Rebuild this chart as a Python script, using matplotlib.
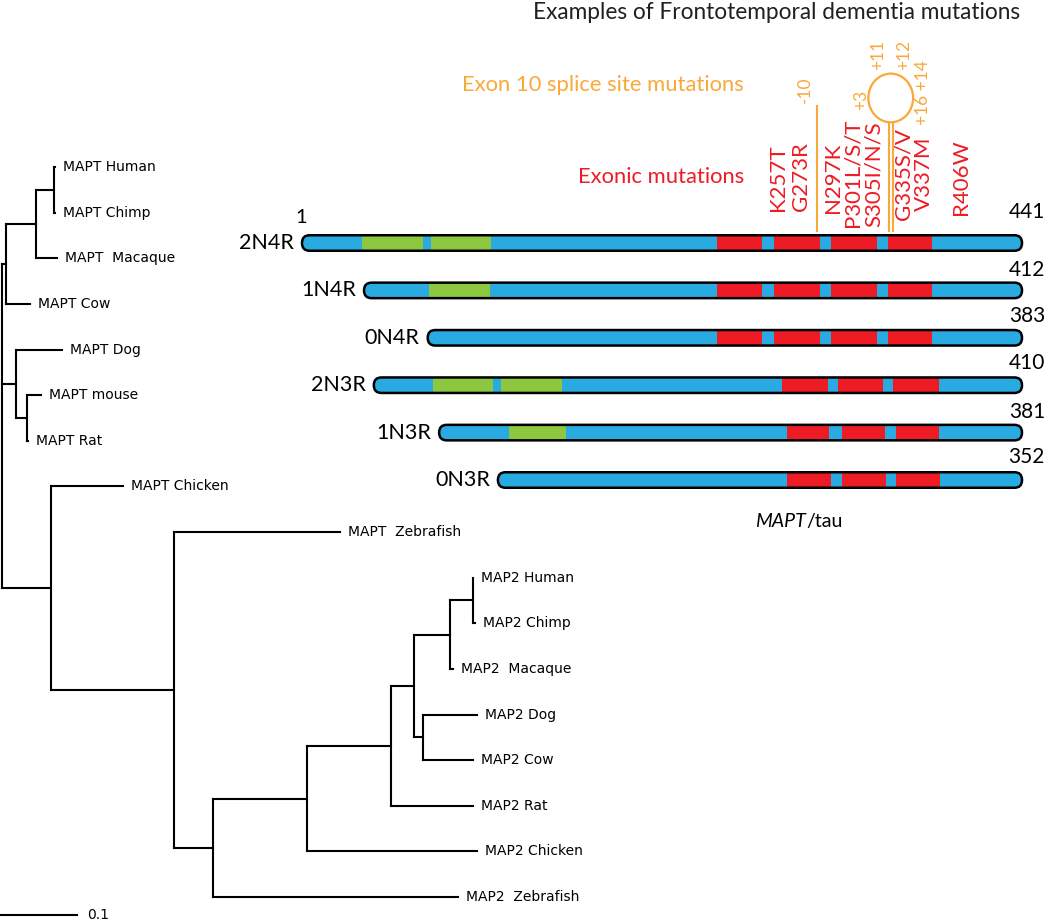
import matplotlib.pyplot as plt
from matplotlib.patches import FancyBboxPatch, Rectangle, Ellipse

plt.rcParams['font.family'] = ['Lato', 'DejaVu Sans']

BLUE = '#29aae1'
GREEN = '#8dc63f'
RED = '#ed1c24'
ORANGE = '#f9a83a'

# ---------------- phylogenetic tree (flat node table) ----------------
tree_nodes = ['root', 'n1', 'n2', 'n3', 'MAPT Human', 'MAPT Chimp', 'MAPT  Macaque',
              'MAPT Cow', 'n4', 'MAPT Dog', 'n5', 'MAPT mouse', 'MAPT Rat',
              'n6', 'MAPT Chicken', 'n7', 'MAPT  Zebrafish', 'n8', 'n9', 'n10',
              'n11', 'n12', 'n13', 'MAP2 Human', 'MAP2 Chimp', 'MAP2  Macaque',
              'n14', 'MAP2 Dog', 'MAP2 Cow', 'MAP2 Rat', 'MAP2 Chicken', 'MAP2  Zebrafish']
tree_parent = [None, 'root', 'n1', 'n2', 'n3', 'n3', 'n2',
               'n1', 'root', 'n4', 'n4', 'n5', 'n5',
               'root', 'n6', 'n6', 'n7', 'n7', 'n8', 'n9',
               'n10', 'n11', 'n12', 'n13', 'n13', 'n12',
               'n11', 'n14', 'n14', 'n10', 'n9', 'n8']
tree_length = [0.0, 0.0045, 0.039, 0.0234, 0.001, 0.001, 0.0273,
               0.0312, 0.0175, 0.0597, 0.0143, 0.0182, 0.0013,
               0.063, 0.0935, 0.1597, 0.2156, 0.0506, 0.122, 0.109,
               0.0299, 0.0468, 0.0295, 0.0007, 0.003, 0.0035,
               0.0117, 0.0701, 0.0649, 0.1065, 0.2208, 0.318]
scale_bar = 0.1

# ---------------- tau isoforms (schematic positions) ----------------
iso_names = ['2N4R', '1N4R', '0N4R', '2N3R', '1N3R', '0N3R']
iso_lengths = [441, 412, 383, 410, 381, 352]
iso_start = [0, 38, 77, 44, 84, 120]
iso_end = [441, 441, 441, 441, 441, 441]
green_segments = [[(37, 74), (79, 116)], [(78, 115)], [],
                  [(80, 117), (122, 159)], [(127, 162)], []]
red_4r = [(254, 282), (289, 317), (324, 352), (359, 386)]
red_segments = [red_4r, red_4r, red_4r,
                [(294, 322), (328, 356), (362, 390)],
                [(297, 323), (331, 357), (364, 390)],
                [(297, 324), (331, 358), (364, 391)]]
length_dy = [-0.65, -0.42, -0.46, -0.47, -0.44, -0.49]

mutations = ['K257T', 'G273R', 'N297K', 'P301L/S/T', 'S305I/N/S', 'G335S/V', 'V337M', 'R406W']
mutation_x = [291.6, 305.6, 325.2, 336.9, 350.4, 368.7, 381.0, 403.6]
mutation_y = [-0.675, -0.675, -0.633, -0.338, -0.338, -0.485, -0.675, -0.591]

splice_labels = ['-10', '+3', '+11', '+12', '+16 +14']
splice_x = [308.1, 342.4, 352.6, 368.7, 380.2]
splice_y = [-3.23, -3.02, -3.97, -3.97, -3.175]

fig = plt.figure(figsize=(10.5, 9.21), dpi=100)

# tree axes: x = distance, y = leaf index (calibrated to pixels)
PX_PER_DIST = 770.0
ROOT_PX = 2.5
LEAF0_PX, LEAF_STEP = 167.0, 45.625
ax_t = fig.add_axes([0, 0, 1, 1])
ax_t.set_xlim(-ROOT_PX / PX_PER_DIST, (1050 - ROOT_PX) / PX_PER_DIST)
ax_t.set_ylim((921 - LEAF0_PX) / LEAF_STEP, -LEAF0_PX / LEAF_STEP)
ax_t.axis('off')

parents = set(p for p in tree_parent if p is not None)
node_x = {}
for name, par, bl in zip(tree_nodes, tree_parent, tree_length):
    node_x[name] = bl if par is None else node_x[par] + bl
node_y = {}
leaf_i = 0
for name in tree_nodes:
    if name not in parents:
        node_y[name] = leaf_i
        leaf_i += 1
children = {}
for name, par in zip(tree_nodes, tree_parent):
    if par is not None:
        children.setdefault(par, []).append(name)
for name in reversed(tree_nodes):
    if name in children:
        ys = [node_y[c] for c in children[name]]
        node_y[name] = (min(ys) + max(ys)) / 2

lw_tree = 1.5
for name, par in zip(tree_nodes, tree_parent):
    if par is not None:
        ax_t.plot([node_x[par], node_x[name]], [node_y[name]] * 2, color='black',
                  lw=lw_tree, solid_capstyle='projecting')
    if name in children:
        ys = [node_y[c] for c in children[name]]
        ax_t.plot([node_x[name]] * 2, [min(ys), max(ys)], color='black',
                  lw=lw_tree, solid_capstyle='projecting')
    else:
        ax_t.text(node_x[name] + 0.0105, node_y[name], name, fontsize=10,
                  family='DejaVu Sans', va='center', ha='left')

sb_y = (915 - LEAF0_PX) / LEAF_STEP
sb_x0 = -ROOT_PX / PX_PER_DIST
ax_t.plot([sb_x0, sb_x0 + scale_bar], [sb_y, sb_y], color='black', lw=lw_tree)
ax_t.text(sb_x0 + scale_bar + 0.013, sb_y, '0.1', fontsize=10, family='DejaVu Sans',
          va='center', ha='left')

# isoform axes: x = schematic residue position, y = isoform row
U_PER_PX = 441 / 720.0
BAR0_PX = 302.0
ROW0_PX, ROW_STEP = 243.0, 47.4
ax_i = fig.add_axes([0, 0, 1, 1])
ax_i.patch.set_visible(False)
ax_i.set_xlim(-BAR0_PX * U_PER_PX, (1050 - BAR0_PX) * U_PER_PX)
ax_i.set_ylim((921 - ROW0_PX) / ROW_STEP, -ROW0_PX / ROW_STEP)
ax_i.axis('off')

bar_h = 15.5 / ROW_STEP
aspect = (1 / ROW_STEP) / U_PER_PX
rad = 0.49 * bar_h / aspect
for r, name in enumerate(iso_names):
    x0, x1 = iso_start[r], iso_end[r]
    base = FancyBboxPatch((x0, r - bar_h / 2), x1 - x0, bar_h,
                          boxstyle=f'round,pad=0,rounding_size={rad}',
                          mutation_aspect=aspect, fc=BLUE, ec='none', zorder=2)
    ax_i.add_patch(base)
    for a, b in green_segments[r]:
        ax_i.add_patch(Rectangle((a, r - bar_h / 2), b - a, bar_h, fc=GREEN, ec='none', zorder=3))
    for a, b in red_segments[r]:
        ax_i.add_patch(Rectangle((a, r - bar_h / 2), b - a, bar_h, fc=RED, ec='none', zorder=3))
    edge = FancyBboxPatch((x0, r - bar_h / 2), x1 - x0, bar_h,
                          boxstyle=f'round,pad=0,rounding_size={rad}',
                          mutation_aspect=aspect, fc='none', ec='black', lw=1.8, zorder=4)
    ax_i.add_patch(edge)
    ax_i.text(x0 - 5.0, r, name, fontsize=15.5, ha='right', va='center')
    ax_i.text((1045 - BAR0_PX) * U_PER_PX, r + length_dy[r], str(iso_lengths[r]),
              fontsize=15, ha='right', va='center')

ax_i.text(-0.8, -0.53, '1', fontsize=14.5, ha='center', va='center')

# exonic mutations
for m, x, y in zip(mutations, mutation_x, mutation_y):
    ax_i.text(x, y, m, rotation=90, fontsize=16, color=RED, ha='center', va='bottom')

# splice-site mutations (stem loop)
ax_i.plot([315.4, 315.4], [-2.89, -0.253], color=ORANGE, lw=1.5)
ax_i.plot([359.3, 359.3], [-2.53, -0.253], color=ORANGE, lw=1.5)
ax_i.plot([361.8, 361.8], [-2.53, -0.253], color=ORANGE, lw=1.5)
ax_i.add_patch(Ellipse((360.6, -3.06), 27.4, 1.027, fc='none', ec=ORANGE, lw=1.6))
for s, x, y in zip(splice_labels, splice_x, splice_y):
    ax_i.text(x, y, s, rotation=90, fontsize=12.5, color=ORANGE, ha='center', va='center')

ax_i.text(270.7, -3.333, 'Exon 10 splice site mutations', fontsize=15.8, color=ORANGE,
          ha='right', va='center')
ax_i.text(270.7, -1.392, 'Exonic mutations', fontsize=15.8, color=RED, ha='right', va='center')
ax_i.text(439.8, -4.873, 'Examples of Frontotemporal dementia mutations', fontsize=16.3,
          ha='right', va='center', color='#231f20')
ax_i.text(308.7, 5.865, 'MAPT', fontsize=14, style='italic', ha='right', va='center')
ax_i.text(308.7, 5.865, '/tau', fontsize=14, ha='left', va='center')

fig.savefig('out.png', dpi=100)
